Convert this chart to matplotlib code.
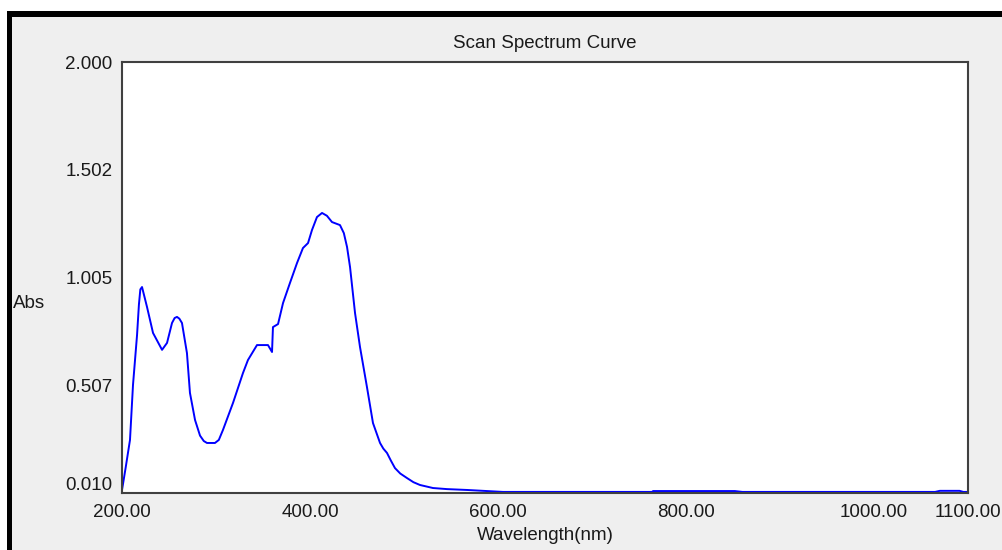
import matplotlib
matplotlib.use("Agg")
import matplotlib.pyplot as plt
import matplotlib.transforms as mtransforms
from matplotlib.patches import Rectangle

# Data
wavelength = [200, 201, 204, 208.5, 211.7, 216, 218, 219.5, 221.3, 226.6, 233, 242.6, 247.9,
              253.2, 256, 258.5, 261, 263.8, 269.1, 272.3, 277.7, 283, 287, 290.4, 298.9, 303, 307.4,
              318.1, 328.7, 334, 343.6, 348.9, 355.3, 359.6, 360.6, 366, 371.3,
              378.7, 386.2, 392.5, 397.9, 402.1, 407.4, 412.8, 418, 423.4, 431.9, 436, 439.4,
              442.6, 447.9, 453.2, 460.6, 467, 474.5, 478, 481.9, 486, 490.4, 496, 503.2, 510, 517,
              530.8, 545.7, 567, 605.3, 650, 700, 763.8, 765, 793.6, 852, 860,
              1000, 1065, 1070, 1091, 1095, 1100]
absorbance = [0.024, 0.050, 0.130, 0.255, 0.509, 0.739, 0.880, 0.950, 0.961, 0.869, 0.749, 0.671, 0.703,
              0.795, 0.818, 0.823, 0.815, 0.795, 0.656, 0.472, 0.347, 0.275, 0.250, 0.241, 0.241, 0.255, 0.301,
              0.426, 0.564, 0.624, 0.693, 0.693, 0.693, 0.661, 0.776, 0.790, 0.887,
              0.980, 1.072, 1.141, 1.164, 1.224, 1.284, 1.303, 1.290, 1.261, 1.247, 1.210, 1.146,
              1.053, 0.841, 0.684, 0.499, 0.333, 0.241, 0.215, 0.195, 0.160, 0.125, 0.100, 0.079, 0.060, 0.047,
              0.033, 0.028, 0.024, 0.015, 0.015, 0.015, 0.015, 0.019, 0.019, 0.019, 0.015,
              0.015, 0.015, 0.020, 0.020, 0.015, 0.015]

y_ticks = [0.010, 0.507, 1.005, 1.502, 2.000]
y_tick_labels = ["0.010", "0.507", "1.005", "1.502", "2.000"]
x_ticks = [200, 400, 600, 800, 1000, 1100]
x_tick_labels = ["200.00", "400.00", "600.00", "800.00", "1000.00", "1100.00"]

W, H = 1003, 550
plt.rcParams['font.family'] = ['Liberation Sans', 'DejaVu Sans']
fig = plt.figure(figsize=(W / 100, H / 100), dpi=100)
fig.patch.set_facecolor('white')

# gray panel + black borders
fig.patches.append(Rectangle((12 / W, 0), 1 - 12 / W, 1 - 17 / H, transform=fig.transFigure,
                             facecolor='#efefef', edgecolor='none', zorder=-10))
fig.patches.append(Rectangle((7 / W, 0), 5 / W, 1 - 11 / H, transform=fig.transFigure,
                             facecolor='black', edgecolor='none', zorder=-9))
fig.patches.append(Rectangle((7 / W, 1 - 17 / H), 1 - 7 / W, 6 / H, transform=fig.transFigure,
                             facecolor='black', edgecolor='none', zorder=-9))

ax = fig.add_axes([122 / W, 57 / H, 846 / W, 431 / H])
ax.set_facecolor('white')
ax.plot(wavelength, absorbance, color='#0000ff', lw=1.4)
ax.set_xlim(200, 1100)
ax.set_ylim(0.010, 2.000)
for s in ax.spines.values():
    s.set_color('#404040')
    s.set_linewidth(1.5)

fs = 13.5
tc = '#1a1a1a'
ax.set_yticks(y_ticks)
ax.set_yticklabels(y_tick_labels, fontsize=fs, color=tc)
ax.set_xticks(x_ticks)
ax.set_xticklabels(x_tick_labels, fontsize=fs, color=tc)
ax.tick_params(axis='y', length=0, pad=7)
ax.tick_params(axis='x', length=0, pad=8)
# shift lowest y label up like the reference
lbl = ax.get_yticklabels()[0]
lbl.set_transform(lbl.get_transform() + mtransforms.ScaledTranslation(0, 10 / 100, fig.dpi_scale_trans))

ax.set_title("Scan Spectrum Curve", fontsize=fs, color=tc, pad=10)
fig.text(545 / W, 1 - 535 / H, "Wavelength(nm)", ha='center', va='center', fontsize=fs, color=tc)
fig.text(13 / W, 1 - 303 / H, "Abs", ha='left', va='center', fontsize=fs, color=tc)

fig.savefig("out.png", dpi=100)
